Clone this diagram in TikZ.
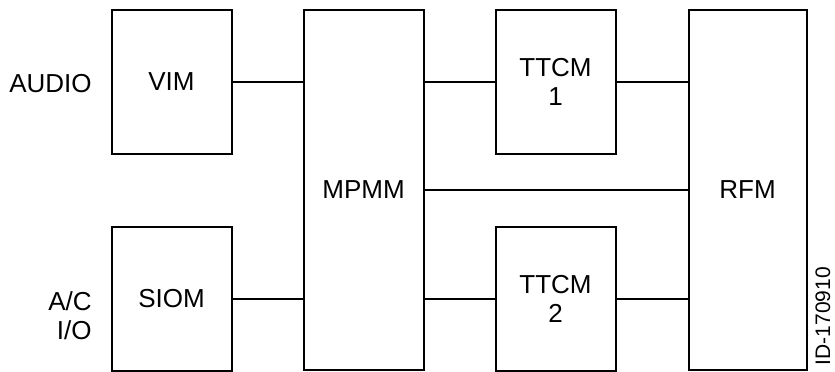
\documentclass[tikz,border=0pt]{standalone}
\usepackage{fontspec}
\setmainfont{Liberation Sans}
\begin{document}
\begin{tikzpicture}
      [ x=0.5pt, y=-0.5pt
      , font=\fontsize{13}{14.5}\selectfont
      , unit/.style={draw, line width=1pt, inner sep=0pt, align=center, minimum width=60pt}
      , small/.style={unit, minimum height=72pt}
      , tall/.style={unit, minimum height=180pt}
      , port/.style={anchor=east, inner sep=0pt, align=right}
      , link/.style={black, draw, line width=1pt}
      ]
    \useasboundingbox (0,0) rectangle (835,371);

    \node[small] (VIM) at (171.5, 82) {VIM};
    \node[small] (SIOM) at (171.5, 298.5) {SIOM};
    \node[tall] (MPMM) at (363.5, 190) {MPMM};
    \node[small] (TTCM1) at (555.5, 82) {TTCM\\1};
    \node[small] (TTCM2) at (555.5, 298.5) {TTCM\\2};
    \node[tall, minimum width=59pt] (RFM) at (747.5, 190) {RFM};

    \node[port] (AUDIO) at (92, 84) {AUDIO};
    \node[port] (AC) at (92, 316) {A/C\\I/O};
    \node[rotate=90, inner sep=0pt, font=\fontsize{10.5}{12}\selectfont] (ID) at (823, 316) {ID-170910};

    \draw[link]
    (VIM.east) -- (VIM.east -| MPMM.west)
    (SIOM.east) -- (SIOM.east -| MPMM.west)

    (TTCM1.west -| MPMM.east) -- (TTCM1.west)
    (TTCM2.west -| MPMM.east) -- (TTCM2.west)
    (MPMM) edge (RFM)

    (TTCM1.east) -- (TTCM1.east -| RFM.west)
    (TTCM2.east) -- (TTCM2.east -| RFM.west);
    \end{tikzpicture}
\end{document}
